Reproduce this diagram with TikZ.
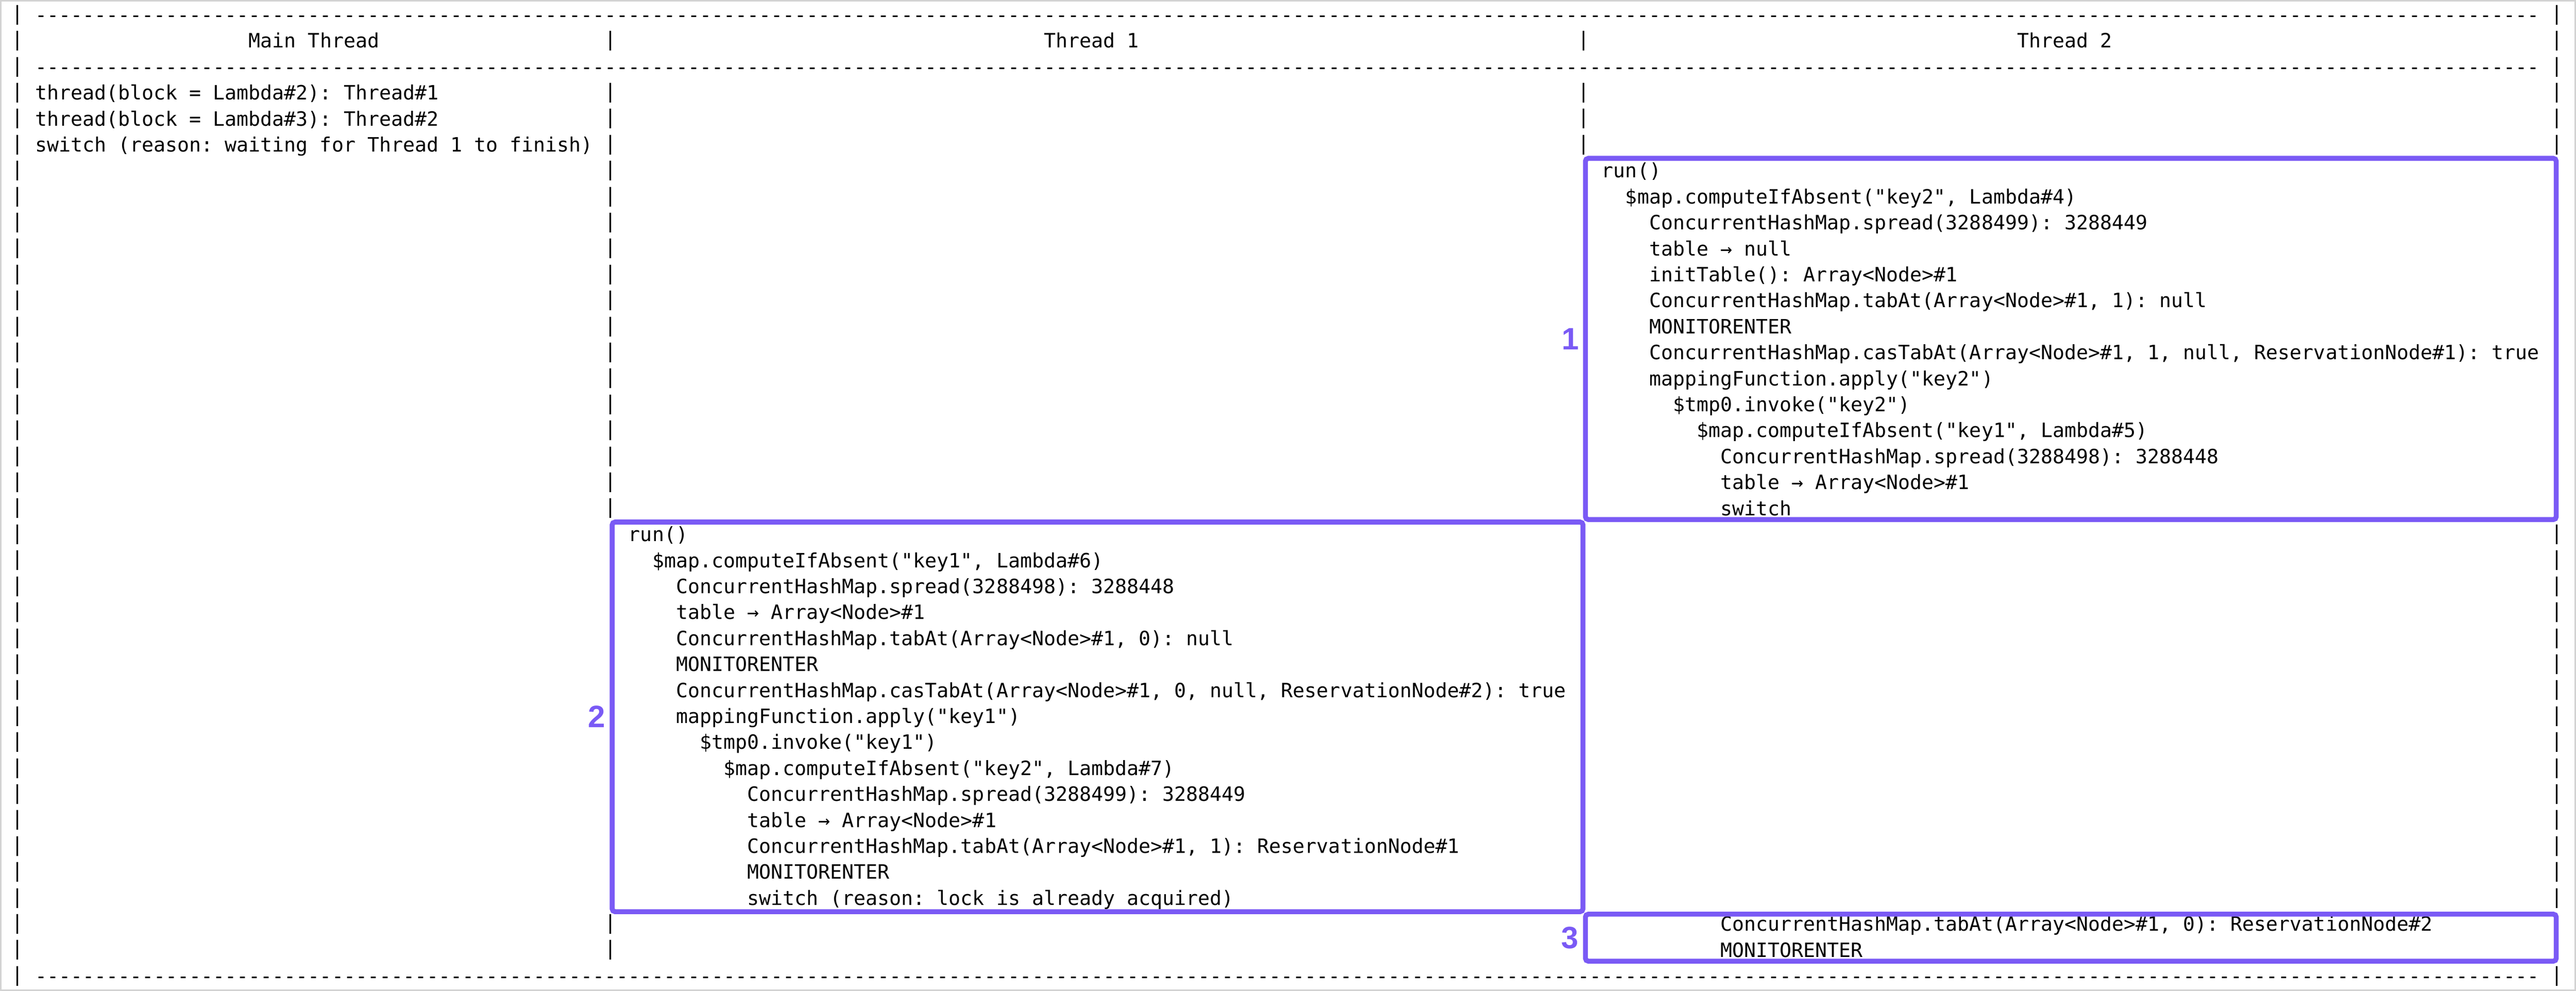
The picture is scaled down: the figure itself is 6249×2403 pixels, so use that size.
\documentclass[tikz,border=0pt]{standalone}
\usepackage{fontspec}
\setmonofont{DejaVu Sans Mono}
\newfontfamily\labelfont{Liberation Sans}
\definecolor{boxpurple}{RGB}{122,90,245}
\definecolor{framegray}{RGB}{211,211,211}
\ExplSyntaxOn
\cs_new:Npn \myrep #1#2 { \prg_replicate:nn {#1} {#2} }
\ExplSyntaxOff
\newcommand\codeline[4]{\node[code] (#1) at ({27.6+#2*28.79},{53+63*#3}) {#4};}
\begin{document}
\begin{tikzpicture}[x=0.2pt,y=-0.2pt,
  code/.style={anchor=base west,inner sep=0pt,outer sep=0pt,font=\ttfamily\fontsize{9.564pt}{11pt}\selectfont\frenchspacing},
  vbar/.style={code},
  hbox/.style={draw=boxpurple,line width=2.4pt,rounded corners=1.4pt},
  numlabel/.style={inner sep=0pt,outer sep=0pt,text=boxpurple,font=\labelfont\bfseries\fontsize{15pt}{15pt}\selectfont}]
\fill[white] (0,0) rectangle (6249,2403);
\useasboundingbox (0,0) rectangle (6249,2403);
\draw[framegray,line width=0.7pt] (1.75,1.75) rectangle (6247.25,2401.25);

% dashed separator rows
\codeline{d0}{2}{0}{\myrep{211}{-}}
\codeline{d2}{2}{2}{\myrep{211}{-}}
\codeline{d37}{2}{37}{\myrep{211}{-}}

% column bars
\foreach \r in {0,...,37} {\node[vbar] (bA\r) at ({27.6},{49+63*\r}) {|};}
\foreach \r in {1,3,4,...,19,35,36} {\node[vbar] (bB\r) at ({27.6+50*28.79},{49+63*\r}) {|};}
\foreach \r in {1,3,4,5} {\node[vbar] (bC\r) at ({27.6+132*28.79},{49+63*\r}) {|};}
\foreach \r in {0,...,5,20,21,...,34,37} {\node[vbar] (bD\r) at ({27.6+214*28.79},{49+63*\r}) {|};}

% headers
\codeline{h0}{20}{1}{Main Thread}
\codeline{h1}{87}{1}{Thread 1}
\codeline{h2}{169}{1}{Thread 2}

% main thread
\codeline{m1}{2}{3}{thread(block = Lambda\#2): Thread\#1}
\codeline{m2}{2}{4}{thread(block = Lambda\#3): Thread\#2}
\codeline{m3}{2}{5}{switch (reason: waiting for Thread 1 to finish)}

% thread 2, first part
\codeline{a6}{134}{6}{run()}
\codeline{a7}{136}{7}{\$map.computeIfAbsent("key2", Lambda\#4)}
\codeline{a8}{138}{8}{ConcurrentHashMap.spread(3288499): 3288449}
\codeline{a9}{138}{9}{table → null}
\codeline{a10}{138}{10}{initTable(): Array<Node>\#1}
\codeline{a11}{138}{11}{ConcurrentHashMap.tabAt(Array<Node>\#1, 1): null}
\codeline{a12}{138}{12}{MONITORENTER}
\codeline{a13}{138}{13}{ConcurrentHashMap.casTabAt(Array<Node>\#1, 1, null, ReservationNode\#1): true}
\codeline{a14}{138}{14}{mappingFunction.apply("key2")}
\codeline{a15}{140}{15}{\$tmp0.invoke("key2")}
\codeline{a16}{142}{16}{\$map.computeIfAbsent("key1", Lambda\#5)}
\codeline{a17}{144}{17}{ConcurrentHashMap.spread(3288498): 3288448}
\codeline{a18}{144}{18}{table → Array<Node>\#1}
\codeline{a19}{144}{19}{switch}

% thread 1
\codeline{b20}{52}{20}{run()}
\codeline{b21}{54}{21}{\$map.computeIfAbsent("key1", Lambda\#6)}
\codeline{b22}{56}{22}{ConcurrentHashMap.spread(3288498): 3288448}
\codeline{b23}{56}{23}{table → Array<Node>\#1}
\codeline{b24}{56}{24}{ConcurrentHashMap.tabAt(Array<Node>\#1, 0): null}
\codeline{b25}{56}{25}{MONITORENTER}
\codeline{b26}{56}{26}{ConcurrentHashMap.casTabAt(Array<Node>\#1, 0, null, ReservationNode\#2): true}
\codeline{b27}{56}{27}{mappingFunction.apply("key1")}
\codeline{b28}{58}{28}{\$tmp0.invoke("key1")}
\codeline{b29}{60}{29}{\$map.computeIfAbsent("key2", Lambda\#7)}
\codeline{b30}{62}{30}{ConcurrentHashMap.spread(3288499): 3288449}
\codeline{b31}{62}{31}{table → Array<Node>\#1}
\codeline{b32}{62}{32}{ConcurrentHashMap.tabAt(Array<Node>\#1, 1): ReservationNode\#1}
\codeline{b33}{62}{33}{MONITORENTER}
\codeline{b34}{62}{34}{switch (reason: lock is already acquired)}

% thread 2, second part
\codeline{c35}{144}{35}{ConcurrentHashMap.tabAt(Array<Node>\#1, 0): ReservationNode\#2}
\codeline{c36}{144}{36}{MONITORENTER}

% highlight boxes
\draw[hbox] (3846,384) rectangle (6201,1260);
\draw[hbox] (1485,1266) rectangle (3840,2211);
\draw[hbox] (3846,2217) rectangle (6201,2331);

% step labels
\node[numlabel] (lab1) at (3809,822) {1};
\node[numlabel] (lab2) at (1447,1738) {2};
\node[numlabel] (lab3) at (3808,2274) {3};
\end{tikzpicture}
\end{document}
